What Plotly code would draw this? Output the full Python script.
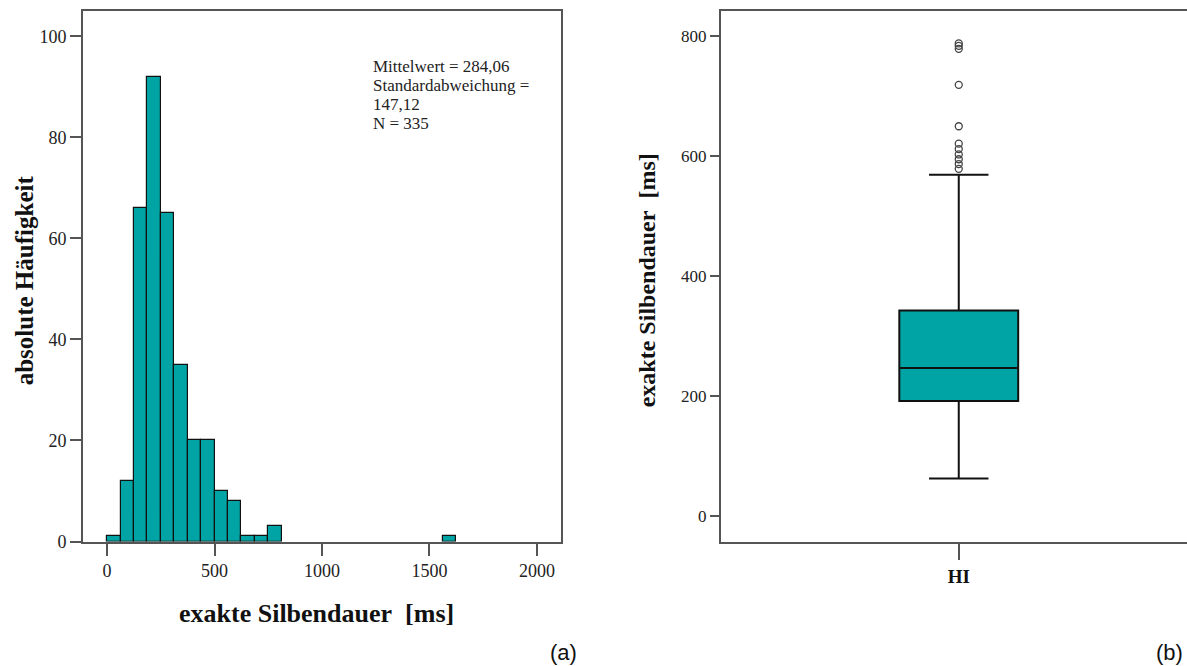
import plotly.graph_objects as go

W, H = 1187, 666
K = 0.984  # observed vertical scale of the rendered page

# ---------------- data ----------------
# histogram (a): left edges of 62.5 ms bins and their counts
bin_width_ms = 62.5
bin_starts_ms = [0, 62.5, 125, 187.5, 250, 312.5, 375, 437.5, 500, 562.5,
                 625, 687.5, 750, 1562.5]
bin_counts = [1, 12, 66, 92, 65, 35, 20, 20, 10, 8, 1, 1, 3, 1]

stats_lines = ["Mittelwert = 284,06", "Standardabweichung =", "147,12", "N = 335"]

# boxplot (b)
box_category = ["HI"]
box_q1 = [192]
box_median = [247]
box_q3 = [343]
box_lower = [63]
box_upper = [569]
box_outliers = [788, 784, 779, 719, 650, 621, 612, 603, 595, 587, 579]

hist_x_ticks = [0, 500, 1000, 1500, 2000]
hist_y_ticks = [0, 20, 40, 60, 80, 100]
box_y_ticks = [0, 200, 400, 600, 800]

TEAL = "#00A4A4"
FRAME = "#555555"


def px(x):
    return x / W


def py(y):
    return 1 - (y / K) / H


fig = go.Figure()

centers = [s + bin_width_ms / 2 for s in bin_starts_ms]
fig.add_trace(go.Bar(
    x=centers, y=bin_counts, width=[bin_width_ms] * len(centers),
    marker=dict(color=TEAL, line=dict(color="#111111", width=1.2)),
    xaxis="x", yaxis="y", showlegend=False,
))

fig.add_trace(go.Box(
    x=[0], q1=box_q1, median=box_median, q3=box_q3,
    lowerfence=box_lower, upperfence=box_upper,
    width=0.5, whiskerwidth=0.5, boxpoints=False,
    fillcolor=TEAL, line=dict(color="#111111", width=2),
    xaxis="x2", yaxis="y2", showlegend=False,
))

fig.add_trace(go.Scatter(
    x=[0] * len(box_outliers), y=box_outliers, mode="markers",
    marker=dict(symbol="circle-open", size=7, color="#444444",
                line=dict(width=1.3, color="#444444")),
    xaxis="x2", yaxis="y2", showlegend=False,
))

serif = "Liberation Serif"
tick_font = dict(family=serif, size=18, color="#222222")

fig.update_layout(
    width=W, height=H,
    margin=dict(l=0, r=0, t=0, b=0),
    paper_bgcolor="white", plot_bgcolor="white",
    bargap=0,
    xaxis=dict(
        domain=[px(83), px(561)], range=[-112, 2112],
        tickvals=hist_x_ticks, ticks="outside", ticklen=12, tickwidth=1.5,
        tickcolor=FRAME, showline=True, linecolor=FRAME, linewidth=2,
        mirror=True, showgrid=False, zeroline=False, tickfont=tick_font,
    ),
    yaxis=dict(
        domain=[py(541), py(11)], range=[0, 105],
        tickvals=hist_y_ticks, ticks="outside", ticklen=11, tickwidth=1.5,
        tickcolor=FRAME, showline=True, linecolor=FRAME, linewidth=2,
        mirror=True, showgrid=False, zeroline=False, tickfont=tick_font,
    ),
    xaxis2=dict(
        domain=[px(721), 1.0], range=[-1.0, 0.96],
        tickvals=[0], ticktext=["<b>" + box_category[0] + "</b>"],
        ticks="outside", ticklen=16, tickwidth=1.5, tickcolor=FRAME,
        showline=True, linecolor=FRAME, linewidth=2, mirror=True,
        showgrid=False, zeroline=False, ticklabelstandoff=1,
        tickfont=dict(family=serif, size=19, color="#111111"),
    ),
    yaxis2=dict(
        domain=[py(541), py(11)], range=[-42, 842], anchor="x2",
        tickvals=box_y_ticks, ticks="outside", ticklen=9, tickwidth=1.5,
        tickcolor=FRAME, showline=True, linecolor=FRAME, linewidth=2,
        mirror=False, showgrid=False, zeroline=False,
        tickfont=dict(family=serif, size=17, color="#222222"),
    ),
)

ann = []
# stats text
for line, yc in zip(stats_lines, [66, 85, 104, 123]):
    ann.append(dict(text=line, x=px(371), y=py(yc), xref="paper", yref="paper",
                    xanchor="left", yanchor="middle", showarrow=False,
                    font=dict(family=serif, size=17, color="#222222")))
# titles
ann.append(dict(text="<b>absolute Häufigkeit</b>", x=px(24), y=py(280),
                xref="paper", yref="paper", textangle=-90, showarrow=False,
                xanchor="center", yanchor="middle",
                font=dict(family=serif, size=25, color="#111111")))
ann.append(dict(text="<b>exakte Silbendauer\u00a0 [ms]</b>", x=px(316), y=py(613),
                xref="paper", yref="paper", showarrow=False,
                xanchor="center", yanchor="middle",
                font=dict(family=serif, size=26, color="#111111")))
ann.append(dict(text="<b>exakte Silbendauer\u00a0 [ms]</b>", x=px(647), y=py(280),
                xref="paper", yref="paper", textangle=-90, showarrow=False,
                xanchor="center", yanchor="middle",
                font=dict(family=serif, size=24, color="#111111")))
# panel labels
ann.append(dict(text="(a)", x=px(548), y=py(652), xref="paper", yref="paper",
                showarrow=False, xanchor="left", yanchor="middle",
                font=dict(family="Liberation Sans", size=22, color="#111111")))
ann.append(dict(text="(b)", x=px(1185), y=py(652), xref="paper", yref="paper",
                showarrow=False, xanchor="right", yanchor="middle",
                font=dict(family="Liberation Sans", size=22, color="#111111")))
fig.update_layout(annotations=ann)

fig.write_html("out.html")
